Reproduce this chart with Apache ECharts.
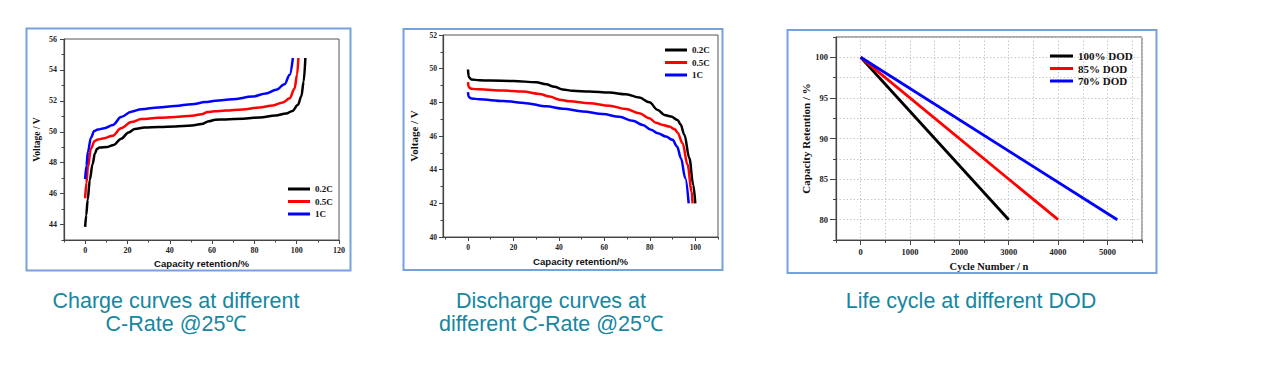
<!DOCTYPE html>
<html>
<head>
<meta charset="utf-8">
<script src="https://cdn.jsdelivr.net/npm/echarts@6/dist/echarts.min.js"></script>
<style>
html,body{margin:0;padding:0;background:#fff;}
#main{width:1278px;height:365px;}
</style>
</head>
<body>
<div id="main"></div>
<script>
// ---------- DATA ----------
const rateNames = ['0.2C', '0.5C', '1C'];
const dodNames = ['100% DOD', '85% DOD', '70% DOD'];

// Charge curves (capacity retention %, voltage V)
const chgCap02 = [0,0.5,1.2,2.2,3.5,4.6,5.6,6.8,10.5,13.5,17,20.5,23.5,28,35,42.5,50.5,55,58.5,61.5,66.5,74.5,82.5,90,95,98,100.6,102.2,103.3,104.1];
const chgV02   = [43.85,44.6,45.6,46.9,47.9,48.6,48.9,48.98,49.02,49.15,49.55,49.95,50.18,50.27,50.31,50.34,50.4,50.5,50.68,50.78,50.8,50.84,50.93,51.05,51.18,51.35,51.74,52.3,53.25,54.77];
const chgCap05 = [0,0.6,1.3,2.7,4.5,6,9,13,17,21.8,26.6,34.6,42.5,50.5,55,58,61,66.4,74.4,82.3,88.7,93.5,96.7,99,100.2,100.8];
const chgV05   = [45.7,46.7,47.7,48.9,49.4,49.5,49.58,49.75,50.23,50.63,50.82,50.9,50.96,51.04,51.14,51.28,51.32,51.37,51.44,51.57,51.7,51.9,52.17,52.8,53.7,54.77];
const chgCap1  = [0,0.6,1.3,2.7,4.3,6,9.1,13.1,17,21.8,26.6,34.6,42.5,50.5,56.8,61.6,69.6,79.1,85.5,90.3,94.3,96.7,98.2];
const chgV1    = [46.94,47.8,48.7,49.6,50.05,50.15,50.23,50.44,50.95,51.3,51.46,51.57,51.67,51.78,51.92,52.0,52.1,52.28,52.48,52.71,53.08,53.69,54.77];

// Discharge curves
const disCap02 = [0,0.3,1.5,5,10,20,30,34.4,38,41.7,46,53.4,62.2,69.5,75.4,79.8,83.5,86.4,89.3,92.2,93.5,95.2,97.4,99.1,100];
const disV02   = [49.95,49.5,49.36,49.31,49.29,49.27,49.19,49.07,48.92,48.76,48.69,48.64,48.58,48.48,48.28,48.0,47.55,47.25,47.16,46.95,46.7,46.07,44.68,43.1,42.0];
const disCap05 = [0,0.3,1.5,5,15.4,24.2,31.5,35.9,40.3,44.7,53.4,62.2,69.5,75.4,79.8,82.7,85.7,88.6,91,92.2,94.4,96.6,98.4,98.8];
const disV05   = [49.2,48.9,48.8,48.77,48.7,48.64,48.5,48.34,48.16,48.06,47.95,47.8,47.6,47.35,47.06,46.78,46.66,46.56,46.4,46.2,45.57,44.29,42.71,42.0];
const disCap1  = [0,0.3,1.5,5,15.4,25.6,34.4,41.7,50.5,59.3,66.6,72.5,76.9,80.5,83.5,87.1,90,92,93.7,95.6,97.1];
const disV1    = [48.6,48.32,48.23,48.18,48.08,47.95,47.76,47.62,47.46,47.3,47.14,46.9,46.66,46.37,46.17,45.97,45.77,45.38,44.68,43.5,42.0];

// Life cycle (cycle number, capacity retention %)
const cyc100 = [0, 3000];
const cyc85  = [0, 4000];
const cyc70  = [0, 5200];
const retention = [100, 80];

// Tick labels
const chgXTicks = [0,20,40,60,80,100,120];
const chgXMinor = [-10,0,10,20,30,40,50,60,70,80,90,100,110,120];
const chgYTicks = [44,46,48,50,52,54,56];
const disXTicks = [0,20,40,60,80,100];
const disXMinor = [-10,0,10,20,30,40,50,60,70,80,90,100,110];
const disYTicks = [40,42,44,46,48,50,52];
const lifeXTicks = [0,1000,2000,3000,4000,5000];
const lifeYTicks = [80,85,90,95,100];

const captions = [
  'Charge curves at different\nC-Rate @25\u2103',
  'Discharge curves at\ndifferent C-Rate @25\u2103',
  'Life cycle at different DOD'
];

// ---------- BUILD ----------
const zip = (a, b) => a.map((v, i) => [v, b[i]]);
const colors = ['#000000', '#ff0000', '#0000ff'];
const SERIF = '"Liberation Serif", "DejaVu Serif", serif';
const SANS = '"Liberation Sans", Arial, sans-serif';
const axisCol = '#444';

function mainAxis(o) {
  return {
    type: 'value', gridIndex: o.grid, min: o.min, max: o.max, position: o.pos,
    interval: o.interval,
    name: o.name, nameLocation: 'middle', nameGap: o.nameGap,
    nameTextStyle: { fontFamily: o.nameFont, fontWeight: 'bold', fontSize: o.nameSize, color: '#111' },
    axisLine: { show: true, onZero: false, lineStyle: { color: axisCol, width: 1.2 } },
    axisTick: { show: true, inside: false, length: o.tickLen, lineStyle: { color: axisCol, width: 1 },
      customValues: o.tickValues },
    axisLabel: { show: true, customValues: o.labels, margin: o.margin, formatter: v => String(v),
      fontFamily: SERIF, fontWeight: 'bold', fontSize: o.labelSize, color: '#222' },
    splitLine: { show: !!o.split, lineStyle: { color: '#c8c8c8', type: [1.5, 2], width: 1 } }
  };
}
function minorAxis(o) {
  return {
    type: 'value', gridIndex: o.grid, min: o.min, max: o.max, position: o.pos,
    interval: o.interval,
    axisLine: { show: false, onZero: false },
    axisTick: { show: true, length: o.tickLen, lineStyle: { color: axisCol, width: 1 }, customValues: o.tickValues },
    axisLabel: { show: false },
    splitLine: { show: false }
  };
}

const grids = [
  { left: 64, top: 39, width: 275, height: 201 },
  { left: 443, top: 35, width: 275, height: 202 },
  { left: 836, top: 37, width: 306, height: 203 }
].map(g => Object.assign(g, { show: true, borderColor: '#555', borderWidth: 1, backgroundColor: 'transparent', containLabel: false }));

const xAxis = [
  mainAxis({ grid: 0, min: -10, max: 120, pos: 'bottom', name: 'Capacity retention/%', nameGap: 17, nameFont: SANS, nameSize: 9.6,
    tickLen: 4, tickValues: chgXTicks, labels: chgXTicks, margin: 6, labelSize: 8 }),
  minorAxis({ grid: 0, min: -10, max: 120, pos: 'bottom', tickLen: 2.5, tickValues: chgXMinor }),
  mainAxis({ grid: 1, min: -11, max: 110, pos: 'bottom', name: 'Capacity retention/%', nameGap: 19, nameFont: SANS, nameSize: 9.6,
    tickLen: 4, tickValues: disXTicks, labels: disXTicks, margin: 6, labelSize: 7.5 }),
  minorAxis({ grid: 1, min: -11, max: 110, pos: 'bottom', tickLen: 2.5, tickValues: disXMinor }),
  mainAxis({ grid: 2, min: -500, max: 5700, pos: 'bottom', interval: 500, split: true, name: 'Cycle Number / n', nameGap: 15, nameFont: SERIF, nameSize: 10.5,
    tickLen: 3, labels: lifeXTicks, margin: 7, labelSize: 8.5 }),
  minorAxis({ grid: 2, min: -500, max: 5700, pos: 'bottom', tickLen: 5, tickValues: lifeXTicks })
];
const yAxis = [
  mainAxis({ grid: 0, min: 43, max: 56, pos: 'left', name: 'Voltage / V', nameGap: 22, nameFont: SERIF, nameSize: 9.5,
    tickLen: 4, tickValues: chgYTicks, labels: chgYTicks, margin: 7, labelSize: 8 }),
  minorAxis({ grid: 0, min: 43, max: 56, pos: 'left', interval: 1, tickLen: 2.5 }),
  mainAxis({ grid: 1, min: 40, max: 52, pos: 'left', interval: 2, name: 'Voltage / V', nameGap: 24, nameFont: SERIF, nameSize: 11,
    tickLen: 4, labels: disYTicks, margin: 6, labelSize: 7.5 }),
  minorAxis({ grid: 1, min: 40, max: 52, pos: 'left', interval: 1, tickLen: 2.5 }),
  mainAxis({ grid: 2, min: 77.5, max: 102.5, pos: 'left', interval: 2.5, split: true, name: 'Capacity Retention / %', nameGap: 25, nameFont: SERIF, nameSize: 11,
    tickLen: 3, labels: lifeYTicks, margin: 8, labelSize: 8.5 }),
  minorAxis({ grid: 2, min: 77.5, max: 102.5, pos: 'left', tickLen: 6, tickValues: lifeYTicks })
];

function lineSeries(name, data, xi, yi, color, smooth, width) {
  return {
    type: 'line', name: name, data: data, xAxisIndex: xi, yAxisIndex: yi,
    showSymbol: false, symbol: 'none', smooth: smooth ? 0.35 : false, smoothMonotone: smooth ? 'x' : undefined,
    lineStyle: { color: color, width: width }, itemStyle: { color: color }, animation: false, z: 3
  };
}

const series = [
  lineSeries('0.2C', zip(chgCap02, chgV02), 0, 0, colors[0], true, 2.5),
  lineSeries('0.5C', zip(chgCap05, chgV05), 0, 0, colors[1], true, 2.5),
  lineSeries('1C', zip(chgCap1, chgV1), 0, 0, colors[2], true, 2.5),
  lineSeries('0.2C', zip(disCap02, disV02), 2, 2, colors[0], true, 2.5),
  lineSeries('0.5C', zip(disCap05, disV05), 2, 2, colors[1], true, 2.5),
  lineSeries('1C', zip(disCap1, disV1), 2, 2, colors[2], true, 2.5),
  lineSeries(dodNames[0], zip(cyc100, retention), 4, 4, colors[0], false, 2.8),
  lineSeries(dodNames[1], zip(cyc85, retention), 4, 4, colors[1], false, 2.8),
  lineSeries(dodNames[2], zip(cyc70, retention), 4, 4, colors[2], false, 2.8)
];

function legend(names, left, top, size, w) {
  return {
    data: names, orient: 'vertical', left: left, top: top, icon: 'rect', itemWidth: w, itemHeight: 3,
    itemGap: 0.5, selectedMode: false, padding: 0,
    textStyle: { fontFamily: SERIF, fontWeight: 'bold', fontSize: size, color: '#111', lineHeight: 12 }
  };
}

const boxes = [
  { x: 26.5, y: 28.5, w: 324, h: 242 },
  { x: 403.5, y: 29, w: 319, h: 241 },
  { x: 787.5, y: 30, w: 369, h: 243 }
].map(b => ({ type: 'rect', shape: { x: b.x, y: b.y, width: b.w, height: b.h },
  style: { fill: 'none', stroke: '#76a2dc', lineWidth: 2 }, silent: true, z: 0 }));

const captionPos = [176, 551, 971];
const captionTexts = captions.map((t, i) => ({
  type: 'text', x: captionPos[i], y: 289, silent: true, z: 10,
  style: { text: t, textAlign: 'center', textVerticalAlign: 'top', fill: '#1786a0',
    font: '21.5px "Liberation Sans", Arial, sans-serif', lineHeight: 23 }
}));

const option = {
  backgroundColor: '#ffffff',
  animation: false,
  grid: grids,
  xAxis: xAxis,
  yAxis: yAxis,
  legend: [
    legend(rateNames, 288, 183, 9, 22),
    legend(rateNames, 665, 44, 9, 22),
    legend(dodNames, 1050, 50, 11, 23)
  ],
  series: series,
  graphic: boxes.concat(captionTexts)
};

const chart = echarts.init(document.getElementById('main'), null, { renderer: 'svg', width: 1278, height: 365 });
chart.setOption(option);
</script>
</body>
</html>
